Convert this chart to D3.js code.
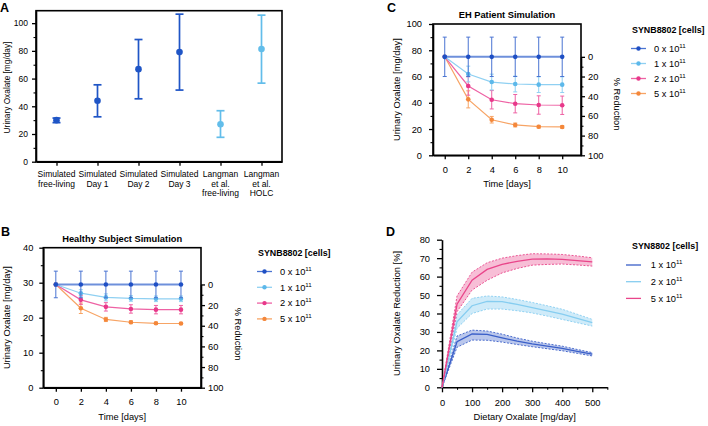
<!DOCTYPE html>
<html lang="en">
<head>
<meta charset="UTF-8">
<script src="https://cdn.jsdelivr.net/npm/d3@7"></script>
<title>SYNB8802 simulations</title>
<style>
  body { margin: 0; background: #fff; }
  svg { font-family: "Liberation Sans", Arial, Helvetica, sans-serif; }
</style>
</head>
<body>
<svg width="708" height="426"></svg>
<script>
// ---- panel A
const catA = ['Simulated free-living', 'Simulated Day 1', 'Simulated Day 2', 'Simulated Day 3', 'Langman et al. free-living', 'Langman et al. HOLC']
const labelA = [['Simulated', 'free-living'], ['Simulated', 'Day 1'], ['Simulated', 'Day 2'], ['Simulated', 'Day 3'], ['Langman', 'et al.', 'free-living'], ['Langman', 'et al.', 'HOLC']]
const sourceA = ['sim', 'sim', 'sim', 'sim', 'lit', 'lit']
const meanA = [30, 44, 66.8, 79.1, 27, 81.3]
const lowA = [28.2, 32.4, 45.4, 51.7, 17.6, 56.7]
const highA = [31.5, 55.5, 88.2, 106.5, 36.8, 105.8]

// ---- panels B and C
const days = [0, 2, 4, 6, 8, 10]
const doses = ['0', '1', '2', '5']

const healthy0 = [29.5, 29.5, 29.5, 29.5, 29.5, 29.5]
const healthy1 = [29.5, 27.0, 25.8, 25.5, 25.4, 25.4]
const healthy2 = [29.5, 25.1, 23.1, 22.5, 22.3, 22.3]
const healthy5 = [29.5, 22.7, 19.5, 18.7, 18.4, 18.35]
const healthyErr0 = [3.8, 3.8, 3.8, 3.8, 3.8, 3.8]
const healthyErr1 = [0, 1.0, 1.0, 0.8, 0.8, 0.8]
const healthyErr2 = [0, 1.3, 1.2, 1.2, 1.2, 1.2]
const healthyErr5 = [0, 1.5, 0.6, 0.4, 0.3, 0.3]

const eh0 = [75, 75, 75, 75, 75, 75]
const eh1 = [75, 61.9, 55.8, 54.3, 53.8, 53.8]
const eh2 = [75, 52.8, 42.3, 39.3, 38.3, 38.1]
const eh5 = [75, 42.6, 27.1, 23.1, 21.8, 21.6]
const ehErr0 = [15, 15, 15, 15, 15, 15]
const ehErr1 = [0, 6, 6, 6, 6, 6]
const ehErr2 = [0, 7, 7, 7, 7, 7]
const ehErr5 = [0, 6.5, 2.5, 1.5, 1, 1]

// ---- panel D
const dietX = [0, 50, 100, 150, 200, 250, 300, 350, 400, 450, 500]
const dLabels = ['1', '2', '5']
const d1Mean = [0, 24.7, 28.9, 28.7, 26.8, 25.0, 23.5, 22.3, 21.1, 19.5, 18.0]
const d1Low = [0, 21.7, 25.6, 25.5, 24.5, 23.2, 22.0, 20.9, 19.8, 18.4, 17.0]
const d1High = [0, 27.8, 31.0, 30.5, 28.8, 26.7, 25.0, 23.6, 22.3, 20.5, 18.8]
const d2Mean = [0, 35.5, 44.2, 46.6, 46.4, 44.9, 43.2, 41.4, 39.6, 37.3, 35.0]
const d2Low = [0, 32.0, 40.0, 42.4, 42.4, 41.5, 40.3, 38.6, 36.8, 35.0, 33.2]
const d2High = [0, 39.3, 48.2, 49.5, 49.0, 47.6, 46.0, 44.2, 42.3, 39.6, 36.8]
const d5Mean = [0, 45.0, 58.1, 63.9, 66.6, 68.3, 69.5, 69.6, 69.3, 68.7, 68.0]
const d5Low = [0, 41.0, 52.7, 58.0, 62.0, 64.4, 66.2, 66.6, 66.8, 66.3, 65.7]
const d5High = [0, 49.5, 62.4, 67.5, 70.0, 71.4, 72.4, 72.3, 72.0, 71.2, 70.2]

const DOT = ['#1f4fc4', '#5cb8ea', '#e8388a', '#f4873a']
const LINE = ['#4a74d2', '#8fd0f2', '#ee62a4', '#f7a465']
const BAND = ['#3a5fc8', '#86cdf0', '#e9458a']

const svg = d3.select('svg')

function drawAxis(orient, scale, major, minor, o) {
  const make = orient === 'left' ? d3.axisLeft : orient === 'right' ? d3.axisRight : d3.axisBottom
  const a = svg.append('g').attr('transform', o.transform)
    .call(make(scale).tickValues(major).tickSize(o.size || 4).tickSizeOuter(0)
      .tickPadding(o.pad || 5).tickFormat(o.format || d3.format('d')))
  a.attr('font-family', null).attr('font-size', null)
  a.select('.domain').attr('stroke', '#000').attr('stroke-width', 1.6)
  a.selectAll('line').attr('stroke', '#000').attr('stroke-width', 1.3)
  a.selectAll('text').attr('font-size', o.font || 9.3).attr('fill', '#000')
  if (minor) {
    const m = svg.append('g').attr('transform', o.transform)
      .call(make(scale).tickValues(minor).tickSize(o.minorSize || 2.5).tickFormat(''))
    m.select('.domain').remove()
    m.selectAll('line').attr('stroke', '#000').attr('stroke-width', 1.1)
  }
  return a
}

function label(x, y, txt, o = {}) {
  const t = svg.append('text').attr('x', x).attr('y', y)
    .attr('font-size', o.size || 9.3).attr('text-anchor', o.anchor || 'middle')
    .attr('font-weight', o.bold ? 'bold' : null)
    .text(txt)
  if (o.rotate) t.attr('transform', `rotate(${o.rotate},${x},${y})`).attr('dominant-baseline', 'central')
  return t
}

function legendItem(x, y, base, color, dot, textX) {
  svg.append('line').attr('x1', x).attr('x2', x + 15).attr('y1', y).attr('y2', y)
    .attr('stroke', color).attr('stroke-width', 1.3)
  if (dot) svg.append('circle').attr('cx', x + 7.5).attr('cy', y).attr('r', 2.2).attr('fill', dot)
  const t = svg.append('text').attr('x', textX).attr('y', y + 3.3).attr('font-size', 9.3)
  t.append('tspan').text(base + ' x 10')
  t.append('tspan').attr('dy', -4).attr('font-size', 6.2).text('11')
}

function panelLetter(x, y, s) {
  label(x, y, s, { size: 12.5, bold: true, anchor: 'start' })
}

// ================= A
{
  const x = d3.scalePoint().domain(catA).range([36, 282]).padding(0.5)
  const y = d3.scaleLinear().domain([0, 109]).range([161.7, 10.7])
  const color = d3.scaleOrdinal().domain(['sim', 'lit']).range(['#1f55c6', '#62bdea'])
  drawAxis('left', y, d3.range(0, 101, 20), d3.range(10, 100, 20), { transform: 'translate(36,0)', pad: 4, font: 8.5 })
  drawAxis('bottom', x, catA, null, { transform: 'translate(0,161.7)', format: () => '' })
  svg.append('rect').attr('x', 36).attr('y', 10.7).attr('width', 246).attr('height', 151)
    .attr('fill', 'none').attr('stroke', '#000').attr('stroke-width', 1.6)
  catA.forEach((c, i) => {
    const cx = x(c), col = color(sourceA[i])
    const g = svg.append('g').attr('stroke', col).attr('stroke-width', 1.7)
    g.append('line').attr('x1', cx).attr('x2', cx).attr('y1', y(lowA[i])).attr('y2', y(highA[i]))
    g.append('line').attr('x1', cx - 4).attr('x2', cx + 4).attr('y1', y(lowA[i])).attr('y2', y(lowA[i]))
    g.append('line').attr('x1', cx - 4).attr('x2', cx + 4).attr('y1', y(highA[i])).attr('y2', y(highA[i]))
    svg.append('circle').attr('cx', cx).attr('cy', y(meanA[i])).attr('r', 3.3).attr('fill', col)
    labelA[i].forEach((s, k) => label(cx, 177 + k * 9.6, s, { size: 8.5 }))
  })
  label(7, 87.5, 'Urinary Oxalate [mg/day]', { size: 8.3, rotate: -90 })
  panelLetter(0, 11.5, 'A')
}

// ================= B and C
function timePanel(p) {
  const x = d3.scaleLinear().domain([-1, 11.6]).range([p.x0, p.x1])
  const y = d3.scaleLinear().domain([0, p.yMax]).range([p.y1, p.y0])
  const r = d3.scaleLinear().domain([0, 100]).range([y(p.base), y(0)])
  drawAxis('left', y, p.yMajor, p.yMinor, { transform: `translate(${p.x0},0)`, pad: p.ypad })
  drawAxis('right', r, d3.range(0, 101, 20), d3.range(10, 100, 20), { transform: `translate(${p.x1},0)`, pad: 3 })
  drawAxis('bottom', x, days, null, { transform: `translate(0,${p.y1})`, pad: p.xpad })
  svg.append('rect').attr('x', p.x0).attr('y', p.y0).attr('width', p.x1 - p.x0).attr('height', p.y1 - p.y0)
    .attr('fill', 'none').attr('stroke', '#000').attr('stroke-width', 1.6)

  const line = d3.line().x((d, i) => x(days[i])).y(d => y(d))
  for (let s = doses.length - 1; s >= 0; s--) {
    const m = p.means[s], e = p.errs[s]
    svg.append('path').attr('d', line(m)).attr('fill', 'none')
      .attr('stroke', LINE[s]).attr('stroke-width', s === 0 ? 2 : 1.2).attr('opacity', s === 0 ? 0.8 : 1)
    const g = svg.append('g').attr('stroke', s === 0 ? '#4a74d2' : LINE[s]).attr('stroke-width', 1)
    m.forEach((v, i) => {
      if (!e[i]) return
      const cx = x(days[i])
      g.append('line').attr('x1', cx).attr('x2', cx).attr('y1', y(v - e[i])).attr('y2', y(v + e[i]))
      ;[v - e[i], v + e[i]].forEach(w => g.append('line')
        .attr('x1', cx - 2).attr('x2', cx + 2).attr('y1', y(w)).attr('y2', y(w)))
    })
    svg.append('g').selectAll('circle').data(m).join('circle')
      .attr('cx', (d, i) => x(days[i])).attr('cy', d => y(d)).attr('r', 2.3).attr('fill', DOT[s])
  }

  label((p.x0 + p.x1) / 2, p.y0 - 6, p.title, { bold: true })
  label((p.x0 + p.x1) / 2, p.y1 + 32, 'Time [days]')
  label(p.ylabX, (p.y0 + p.y1) / 2, 'Urinary Oxalate [mg/day]', { rotate: -90 })
  label(p.rlabX, r(50) - 2, '% Reduction', { rotate: 90 })
  label(p.legX, p.legY, 'SYNB8802 [cells]', { bold: true, anchor: 'start', size: 8.9 })
  doses.forEach((d, i) => legendItem(p.legX - 1, p.legY + 16 + i * p.legStep, d, LINE[i], DOT[i], p.legX + 22))
}

timePanel({
  x0: 43.3, x1: 201, y0: 247.7, y1: 387.7, yMax: 40, base: 29.5,
  yMajor: d3.range(0, 41, 10), yMinor: d3.range(5, 40, 10), ypad: 6, xpad: 7,
  means: [healthy0, healthy1, healthy2, healthy5], errs: [healthyErr0, healthyErr1, healthyErr2, healthyErr5],
  title: 'Healthy Subject Simulation', ylabX: 7.5, rlabX: 238,
  legX: 258, legY: 255.5, legStep: 15.8
})
panelLetter(1, 236, 'B')

timePanel({
  x0: 433, x1: 581, y0: 24, y1: 155.3, yMax: 100, base: 75,
  yMajor: d3.range(0, 101, 20), yMinor: d3.range(10, 100, 20), ypad: 7, xpad: 7,
  means: [eh0, eh1, eh2, eh5], errs: [ehErr0, ehErr1, ehErr2, ehErr5],
  title: 'EH Patient Simulation', ylabX: 396.7, rlabX: 616.5,
  legX: 632, legY: 32.5, legStep: 15
})
panelLetter(387, 12, 'C')

// ================= D
{
  const x = d3.scaleLinear().domain([0, 550]).range([442, 607.3])
  const y = d3.scaleLinear().domain([0, 80]).range([387.3, 239.7])
  drawAxis('left', y, d3.range(0, 81, 10), d3.range(5, 80, 10), { transform: 'translate(442,0)', size: 5, pad: 7 })
  drawAxis('bottom', x, d3.range(0, 501, 100), d3.range(50, 551, 100), { transform: 'translate(0,387.3)', size: 5, pad: 7 })

  const sets = [[d1Mean, d1Low, d1High], [d2Mean, d2Low, d2High], [d5Mean, d5Low, d5High]]
  const line = d3.line().x((d, i) => x(dietX[i])).y(d => y(d))
  const area = d3.area().x((d, i) => x(dietX[i])).y0(d => y(d[0])).y1(d => y(d[1]))
  sets.forEach(([m, lo, hi], s) => {
    const col = BAND[s]
    svg.append('path').attr('d', area(lo.map((v, i) => [v, hi[i]])))
      .attr('fill', col).attr('opacity', s === 1 ? 0.4 : 0.35)
    ;[lo, hi].forEach(b => svg.append('path').attr('d', line(b)).attr('fill', 'none')
      .attr('stroke', col).attr('stroke-width', 0.9).attr('stroke-dasharray', '2,1.5'))
    svg.append('path').attr('d', line(m)).attr('fill', 'none').attr('stroke', col).attr('stroke-width', 1.3)
  })

  label(524.7, 419.5, 'Dietary Oxalate [mg/day]')
  label(397, 313.5, 'Urinary Oxalate Reduction [%]', { rotate: -90 })
  label(632, 248.5, 'SYN8802 [cells]', { bold: true, anchor: 'start', size: 8.9 })
  dLabels.forEach((d, i) => legendItem(626, 265 + i * 16.7, d, BAND[i], null, 650.7))
  panelLetter(386, 236, 'D')
}
</script>
</body>
</html>
